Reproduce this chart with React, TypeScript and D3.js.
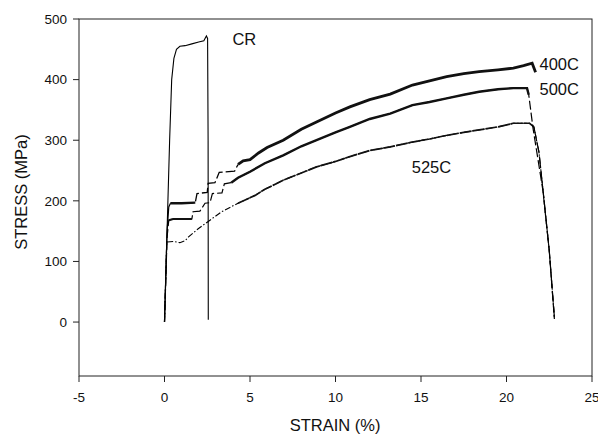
import React from "react";
import * as d3 from "d3";

type Pt = [number, number];

// strain (%), stress (MPa)
const crData: Pt[] = [
  [0, 0], [0.1, 100], [0.2, 200], [0.3, 300], [0.42, 400], [0.55, 435], [0.7, 450],
  [0.9, 455], [1.2, 456], [1.6, 459], [2.0, 462], [2.3, 464], [2.45, 472], [2.52, 468],
  [2.55, 300], [2.56, 4],
];
const c400Data: Pt[] = [
  [0, 0], [0.15, 150], [0.25, 190], [0.35, 196], [1.0, 196], [1.8, 197], [1.9, 212],
  [2.5, 214], [2.55, 229], [2.95, 230], [3.2, 247], [4.1, 249], [4.3, 260], [4.6, 266],
  [5.0, 268], [5.5, 279], [6.0, 288], [6.94, 300], [8.0, 318], [8.89, 330], [10.0, 345],
  [10.84, 355], [12.0, 367], [13.2, 376], [14.5, 391], [15.5, 398], [16.5, 405],
  [17.5, 410], [18.4, 413], [19.5, 416], [20.4, 419], [21.0, 423], [21.5, 427], [21.7, 412],
];
const c500Data: Pt[] = [
  [0, 0], [0.15, 140], [0.25, 168], [0.5, 170], [1.6, 170], [1.67, 182], [2.07, 183],
  [2.37, 196], [2.66, 197], [2.8, 212], [3.36, 213], [3.5, 228], [3.9, 230], [4.3, 238],
  [5.0, 248], [5.87, 262], [6.94, 275], [8.0, 290], [8.89, 300], [10.0, 313], [10.84, 322],
  [12.0, 335], [13.2, 344], [14.5, 358], [15.5, 363], [16.5, 369], [17.5, 375], [18.4, 380],
  [19.5, 384], [20.4, 386], [21.2, 386], [21.3, 375], [21.55, 320], [22.13, 217],
  [22.5, 118], [22.8, 5],
];
const c525Data: Pt[] = [
  [0, 0], [0.13, 132], [0.5, 133], [0.9, 131], [1.2, 134], [1.39, 140], [1.97, 154],
  [2.56, 166], [3.34, 182], [4.3, 196], [5.3, 209], [5.87, 219], [6.94, 234], [8.0, 246],
  [8.89, 256], [10.0, 265], [10.84, 273], [12.0, 283], [13.2, 289], [14.5, 297], [15.5, 302],
  [16.5, 308], [17.5, 313], [18.4, 317], [19.5, 322], [20.4, 328], [21.35, 328], [21.6, 322],
  [21.9, 280], [22.2, 200], [22.5, 118], [22.8, 8],
];

const xTicks = [-5, 0, 5, 10, 15, 20, 25];
const yTicks = [0, 100, 200, 300, 400, 500];

const seriesLabels = [
  { text: "CR", x: 3.97, y: 457 },
  { text: "400C", x: 21.93, y: 416 },
  { text: "500C", x: 21.93, y: 374.5 },
  { text: "525C", x: 14.46, y: 245.6 },
];

const W = 598;
const H = 435;
const FONT = "'Liberation Sans', Arial, Helvetica, sans-serif";

export default function App() {
  const x = d3.scaleLinear().domain([-5, 25]).range([79, 592]);
  const y = d3.scaleLinear().domain([-89, 500]).range([376, 19]);
  const line = d3.line<Pt>().x((d) => x(d[0])).y((d) => y(d[1]));
  const sub = (data: Pt[], a: number, b: number) => data.filter((d) => d[0] >= a && d[0] <= b);

  return (
    <svg
      width={W}
      height={H}
      style={{ position: "absolute", left: 0, top: 0, background: "#fff" }}
      fontFamily={FONT}
    >
      <rect x={0} y={0} width={W} height={H} fill="#fff" />
      {/* frame */}
      <rect
        x={x(-5)}
        y={y(500)}
        width={x(25) - x(-5)}
        height={y(-89) - y(500)}
        fill="none"
        stroke="#222"
        strokeWidth={1}
      />
      {/* y ticks */}
      {yTicks.map((t) => (
        <g key={"y" + t}>
          <line x1={x(-5) - 6} x2={x(-5)} y1={y(t)} y2={y(t)} stroke="#222" />
          <text x={x(-5) - 12} y={y(t)} dy="0.35em" textAnchor="end" fontSize={13.5} fill="#111">
            {t}
          </text>
        </g>
      ))}
      {/* x ticks */}
      {xTicks.map((t) => (
        <g key={"x" + t}>
          <line x1={x(t)} x2={x(t)} y1={y(-89)} y2={y(-89) + 6} stroke="#222" />
          <text x={x(t)} y={y(-89) + 25.5} textAnchor="middle" fontSize={13.5} fill="#111">
            {t}
          </text>
        </g>
      ))}
      {/* axis titles */}
      <text x={335} y={431} textAnchor="middle" fontSize={16.5} fill="#111">
        STRAIN (%)
      </text>
      <text
        transform={`translate(27,192) rotate(-90)`}
        textAnchor="middle"
        fontSize={16.5}
        fill="#111"
      >
        STRESS (MPa)
      </text>

      {/* CR */}
      <path d={line(crData) ?? ""} fill="none" stroke="#000" strokeWidth={1.1} />

      {/* 525C */}
      <path d={line(c525Data) ?? ""} fill="none" stroke="#000" strokeWidth={1.1} strokeDasharray="6,2,1.5,2" />
      <path d={line(sub(c525Data, 4.3, 21.6)) ?? ""} fill="none" stroke="#111" strokeWidth={1.7} strokeDasharray="12,1" />
      <path d={line(sub(c525Data, 21.6, 23)) ?? ""} fill="none" stroke="#000" strokeWidth={1.2} strokeDasharray="12,3" />

      {/* 500C */}
      <path d={line(c500Data) ?? ""} fill="none" stroke="#000" strokeWidth={1.2} strokeDasharray="9,3" />
      <path d={line(sub(c500Data, 0.25, 1.6)) ?? ""} fill="none" stroke="#111" strokeWidth={2.2} />
      <path d={line(sub(c500Data, 3.9, 21.3)) ?? ""} fill="none" stroke="#111" strokeWidth={2.4} />

      {/* 400C */}
      <path d={line(sub(c400Data, 0, 0.35)) ?? ""} fill="none" stroke="#000" strokeWidth={1.2} />
      <path d={line(sub(c400Data, 0.35, 4.3)) ?? ""} fill="none" stroke="#000" strokeWidth={1.3} strokeDasharray="10,3" />
      <path d={line(sub(c400Data, 0.35, 1.8)) ?? ""} fill="none" stroke="#111" strokeWidth={2.4} />
      <path d={line(sub(c400Data, 4.3, 21.7)) ?? ""} fill="none" stroke="#111" strokeWidth={2.8} />

      {/* labels */}
      {seriesLabels.map((l) => (
        <text key={l.text} x={x(l.x)} y={y(l.y)} fontSize={16.5} fill="#111">
          {l.text}
        </text>
      ))}
    </svg>
  );
}
